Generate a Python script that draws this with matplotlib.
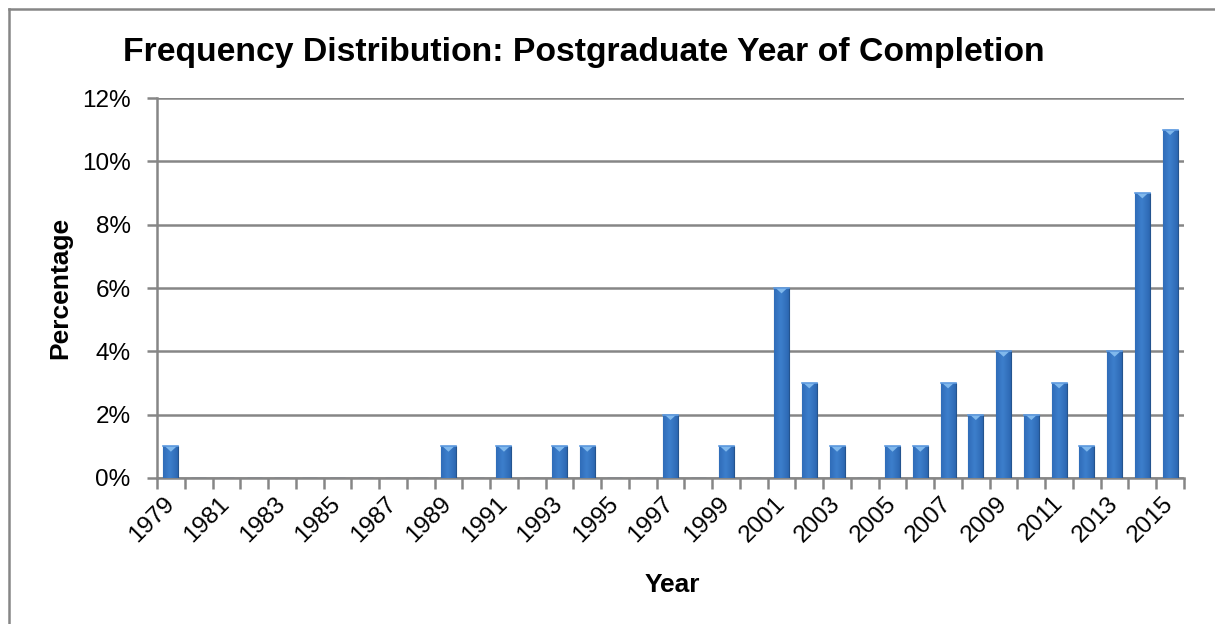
import numpy as np
import matplotlib.pyplot as plt
from matplotlib.ticker import FuncFormatter
from matplotlib.patches import Polygon
from matplotlib.lines import Line2D
from matplotlib.colors import LinearSegmentedColormap

plt.rcParams['font.family'] = ['Liberation Sans', 'DejaVu Sans']

# completion years and share of respondents (%)
years = list(range(1979, 2016))
nonzero_years = [1979, 1989, 1991, 1993, 1994, 1997, 1999, 2001, 2002, 2003,
                 2005, 2006, 2007, 2008, 2009, 2010, 2011, 2012, 2013, 2014, 2015]
nonzero_pct = [1, 1, 1, 1, 1, 2, 1, 6, 3, 1,
               1, 1, 3, 2, 4, 2, 3, 1, 4, 9, 11]
pct = [0] * len(years)
for yr, v in zip(nonzero_years, nonzero_pct):
    pct[years.index(yr)] = v
yticks = [0, 2, 4, 6, 8, 10, 12]

grid_c = '#868686'

fig = plt.figure(figsize=(12.15, 6.24), dpi=100)
ax = fig.add_axes([157/1215, 1-478/624, (1184-157)/1215, (478-98)/624])

x = np.arange(len(years))
w = 0.54
bars = ax.bar(x, pct, width=w, color='#2f66ad', edgecolor='#24548f', linewidth=0.8, zorder=3)

# horizontal shading on each bar
grad = np.linspace(0, 1, 64)
grad = 1 - 0.55 * np.abs(grad - 0.45) * 2
grad = grad[np.newaxis, :]
cmap = LinearSegmentedColormap.from_list('bev', ['#1d4679', '#2f6cb8', '#3d7fcc'])
for b, v in zip(bars, pct):
    if v == 0:
        continue
    x0 = b.get_x()
    im = ax.imshow(grad, cmap=cmap, vmin=0, vmax=1, aspect='auto',
                   extent=[x0, x0 + w, 0, v], zorder=3.5, interpolation='bicubic')
    im.set_clip_path(b)
    # light bevel triangle at the top
    tri = Polygon([[x0 + 0.06, v], [x0 + w - 0.06, v], [x0 + w/2, v - 0.17]],
                  closed=True, facecolor='#80b8ec', edgecolor='none', zorder=4)
    ax.add_patch(tri)
    ax.plot([x0, x0 + w], [v, v], color='#5f9be0', lw=1.2, zorder=4)

ax.set_xlim(-0.5, len(years) - 0.5)
ax.set_ylim(0, 12)
ax.set_yticks(yticks)
ax.yaxis.set_major_formatter(FuncFormatter(lambda v, p: f'{int(v)}%'))
ax.yaxis.grid(True, color=grid_c, linewidth=1.8, zorder=0)
ax.set_axisbelow(True)

label_idx = x[::2]
ax.set_xticks(label_idx)
ax.set_xticklabels([str(years[i]) for i in label_idx], rotation=45,
                   ha='right', va='center', rotation_mode='anchor')
ax.set_xticks(np.arange(-0.5, len(years)), minor=True)
ax.tick_params(axis='x', which='major', length=0, pad=16, labelsize=17.5)
ax.tick_params(axis='x', which='minor', length=8, width=1.8, color=grid_c)
ax.tick_params(axis='y', length=7, width=1.8, color=grid_c, labelsize=17.5, pad=12)

for s in ['top', 'right']:
    ax.spines[s].set_visible(False)
for s in ['left', 'bottom']:
    ax.spines[s].set_color(grid_c)
    ax.spines[s].set_linewidth(1.8)

fig.text(584/1215, 1-52/624, 'Frequency Distribution: Postgraduate Year of Completion',
         ha='center', va='center', fontsize=24.3, fontweight='bold')
fig.text(672/1215, 1-585/624, 'Year', ha='center', va='center',
         fontsize=19, fontweight='bold')
fig.text(60/1215, 1-288/624, 'Percentage', ha='center', va='center',
         rotation=90, fontsize=19, fontweight='bold')

# chart frame (left and top edges)
fig.add_artist(Line2D([9/1215, 9/1215], [0, 1-9/624], color=grid_c, lw=1.8))
fig.add_artist(Line2D([9/1215, 1], [1-9/624, 1-9/624], color=grid_c, lw=1.8))

fig.savefig('out.png', dpi=100)
